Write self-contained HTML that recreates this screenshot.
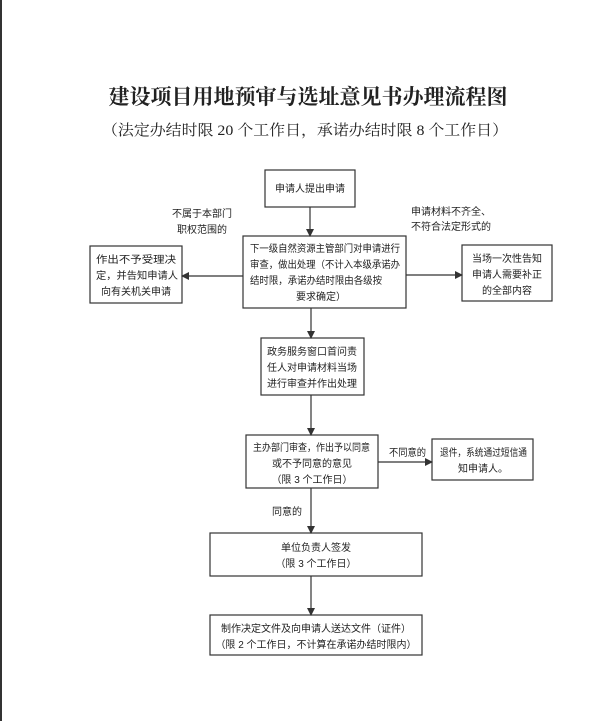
<!DOCTYPE html>
<html><head><meta charset="utf-8"><style>
html,body{margin:0;padding:0;background:#fff;}
svg{display:block;}
text{font-family:"Liberation Serif","Noto Serif CJK SC","Noto Sans CJK SC",serif;fill:#222;}
.s{font-family:"Liberation Sans","Noto Sans CJK SC",sans-serif;font-size:10px;}
</style></head><body>
<svg width="605" height="721" viewBox="0 0 605 721" xmlns="http://www.w3.org/2000/svg">
<defs><marker id="a" markerWidth="8" markerHeight="8" refX="7" refY="4" orient="auto" markerUnits="userSpaceOnUse"><path d="M0,0 L8,4 L0,8 z" fill="#333"/></marker></defs>
<rect x="0" y="0" width="2" height="721" fill="#333"/>
<text x="308" y="104" text-anchor="middle" style="font-size:21px;font-weight:bold;font-family:'Noto Serif CJK SC',serif">建设项目用地预审与选址意见书办理流程图</text>
<text x="102" y="135" textLength="406" lengthAdjust="spacingAndGlyphs" style="font-size:15px">（法定办结时限 20 个工作日，承诺办结时限 8 个工作日）</text>
<g fill="none" stroke="#333" stroke-width="1.2">
<rect x="265" y="170" width="90" height="37"/>
<rect x="243" y="236" width="163" height="72"/>
<rect x="90" y="246" width="92" height="57"/>
<rect x="462" y="245" width="90" height="56"/>
<rect x="261" y="338" width="103" height="57"/>
<rect x="246" y="435" width="132" height="53"/>
<rect x="432" y="439" width="101" height="41"/>
<rect x="210" y="533" width="212" height="43"/>
<rect x="210" y="615" width="212" height="40"/>
<line x1="310" y1="207" x2="310" y2="236" marker-end="url(#a)"/>
<line x1="243" y1="276" x2="182" y2="276" marker-end="url(#a)"/>
<line x1="406" y1="275" x2="462" y2="275" marker-end="url(#a)"/>
<line x1="311" y1="308" x2="311" y2="338" marker-end="url(#a)"/>
<line x1="311" y1="395" x2="311" y2="435" marker-end="url(#a)"/>
<line x1="378" y1="462" x2="432" y2="462" marker-end="url(#a)"/>
<line x1="311" y1="488" x2="311" y2="533" marker-end="url(#a)"/>
<line x1="311" y1="576" x2="311" y2="615" marker-end="url(#a)"/>
</g>
<g class="s">
<text class="s" x="310" y="192" text-anchor="middle">申请人提出申请</text>
<text class="s" x="172" y="217">不属于本部门</text>
<text class="s" x="177" y="233">职权范围的</text>
<text class="s" x="411" y="215">申请材料不齐全、</text>
<text class="s" x="411" y="230">不符合法定形式的</text>
<text class="s" x="250" y="252" textLength="150" lengthAdjust="spacingAndGlyphs">下一级自然资源主管部门对申请进行</text>
<text class="s" x="250" y="268" textLength="150" lengthAdjust="spacingAndGlyphs">审查，做出处理（不计入本级承诺办</text>
<text class="s" x="250" y="284" textLength="132" lengthAdjust="spacingAndGlyphs">结时限，承诺办结时限由各级按</text>
<text class="s" x="296" y="300">要求确定）</text>
<text class="s" x="96" y="263" textLength="80" lengthAdjust="spacingAndGlyphs">作出不予受理决</text>
<text class="s" x="96" y="279" textLength="82" lengthAdjust="spacingAndGlyphs">定，并告知申请人</text>
<text class="s" x="136" y="295" text-anchor="middle">向有关机关申请</text>
<text class="s" x="507" y="262" text-anchor="middle">当场一次性告知</text>
<text class="s" x="507" y="278" text-anchor="middle">申请人需要补正</text>
<text class="s" x="507" y="294" text-anchor="middle">的全部内容</text>
<text class="s" x="312" y="355" text-anchor="middle">政务服务窗口首问责</text>
<text class="s" x="312" y="371" text-anchor="middle">任人对申请材料当场</text>
<text class="s" x="312" y="387" text-anchor="middle">进行审查并作出处理</text>
<text class="s" x="253" y="451" textLength="117" lengthAdjust="spacingAndGlyphs">主办部门审查，作出予以同意</text>
<text class="s" x="312" y="467" text-anchor="middle">或不予同意的意见</text>
<text class="s" x="312" y="483" text-anchor="middle">（限 3 个工作日）</text>
<text class="s" x="389" y="456" textLength="37" lengthAdjust="spacingAndGlyphs">不同意的</text>
<text class="s" x="440" y="456" textLength="87" lengthAdjust="spacingAndGlyphs">退件，系统通过短信通</text>
<text class="s" x="483" y="472" text-anchor="middle">知申请人。</text>
<text class="s" x="272" y="515">同意的</text>
<text class="s" x="316" y="551" text-anchor="middle">单位负责人签发</text>
<text class="s" x="316" y="567" text-anchor="middle">（限 3 个工作日）</text>
<text class="s" x="316" y="632" text-anchor="middle">制作决定文件及向申请人送达文件（证件）</text>
<text class="s" x="316" y="648" text-anchor="middle">（限 2 个工作日，不计算在承诺办结时限内）</text>
</g>
</svg>
</body></html>
